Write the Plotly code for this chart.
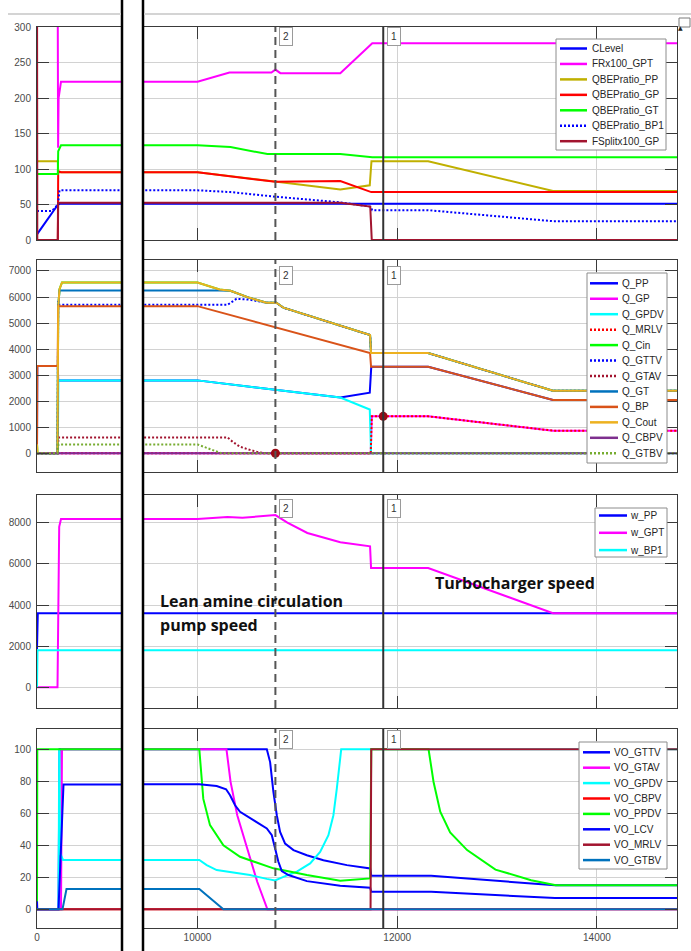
import numpy as np
import plotly.graph_objects as go

# ---------------- data (time in s) ----------------
# Panel 1
clevel_t = [0, 210, 230, 14802]
clevel_v = [8, 50, 51, 51]
frx_t = [0, 206, 211, 216, 240, 10000, 10320, 10740, 10780, 10830, 11430, 11750, 14802]
frx_v = [400, 400, 130, 200, 223, 223, 236, 236, 240, 235, 235, 277, 277]
pp_t = [0, 208, 212, 10000, 10780, 11430, 11725, 11742, 12310, 13560, 14802]
pp_v = [111, 111, 95.5, 95.5, 82, 71, 77, 111, 111, 69, 69]
gp_t = [0, 208, 212, 240, 10000, 10780, 11430, 11740, 14802]
gp_v = [0, 0, 97, 95.5, 95.5, 82, 83, 67.5, 67.5]
gt_t = [0, 208, 212, 240, 10000, 10330, 10700, 11430, 11750, 14802]
gt_v = [93, 93, 125, 133.5, 133.5, 131, 121, 121, 116.5, 116.5]
bp1_t = [0, 150, 210, 225, 10000, 10330, 10780, 11430, 11730, 11750, 12310, 13560, 14802]
bp1_v = [41, 41, 50, 70, 70, 67.5, 61, 53, 47, 42, 42, 26.5, 26.5]
fsplit_t = [0, 3, 208, 212, 11430, 11730, 11745, 14802]
fsplit_v = [400, 0, 0, 52.5, 52.5, 47, 0, 0]

# Panel 2
qpp_t = [0, 3, 208, 212, 10000, 11430, 11725, 11740, 12310, 13560, 14802]
qpp_v = [0, 3350, 3350, 2800, 2800, 2140, 2330, 3320, 3320, 2050, 2050]
qgp_t = [0, 11735, 11745, 12310, 13560, 14802]
qgp_v = [0, 0, 1420, 1420, 870, 870]
qgpdv_t = [0, 208, 214, 10000, 11430, 11725, 11738, 14802]
qgpdv_v = [0, 0, 2800, 2800, 2140, 1680, 0, 0]
qmrlv_t = [0, 11735, 11745, 12310, 13560, 14802]
qmrlv_v = [0, 0, 1420, 1420, 870, 870]
qcout_t = [0, 5, 205, 212, 225, 250, 10000, 10220, 10330, 10520, 10690, 10790, 10860, 11728, 11738, 12310, 13560, 14802]
qcout_v = [350, 0, 0, 5600, 6300, 6560, 6560, 6290, 6240, 5970, 5780, 5780, 5590, 4540, 3850, 3850, 2400, 2400]
qcin_t = qcout_t
qcin_v = qcout_v
qgttv_t = [0, 205, 212, 222, 10300, 10390, 10520, 10690, 10790, 10860, 11728, 11738, 12310, 13560, 14802]
qgttv_v = [0, 0, 5850, 5700, 5700, 5930, 5900, 5780, 5780, 5590, 4540, 3850, 3850, 2400, 2400]
qgtav_t = [0, 205, 215, 10300, 10356, 10426, 10526, 10620, 10720, 14802]
qgtav_v = [0, 0, 610, 610, 430, 250, 130, 30, 0, 0]
qgt_t = [0, 205, 212, 225, 10220, 10330, 10520, 10690, 10790, 10860, 11728, 11738, 12310, 13560, 14802]
qgt_v = [0, 0, 5600, 6250, 6250, 6240, 5970, 5780, 5780, 5590, 4540, 3850, 3850, 2400, 2400]
qbp_t = [0, 3, 206, 212, 10000, 11728, 11738, 12310, 13560, 14802]
qbp_v = [0, 3350, 3350, 5650, 5650, 3850, 3320, 3320, 2050, 2050]
qcbpv_t = [0, 14802]
qcbpv_v = [0, 0]
qgtbv_t = [0, 205, 215, 10000, 10240, 14802]
qgtbv_v = [0, 0, 340, 340, 0, 0]

# Panel 3
wpp_t = [0, 8, 14802]
wpp_v = [1850, 3600, 3600]
wgpt_t = [0, 205, 222, 240, 10000, 10300, 10450, 10600, 10780, 10900, 11100, 11430, 11728, 11738, 12310, 13560, 14802]
wgpt_v = [0, 0, 7800, 8180, 8180, 8280, 8240, 8300, 8370, 8000, 7500, 7050, 6850, 5800, 5800, 3600, 3600]
wbp1_t = [0, 5, 14802]
wbp1_v = [0, 1800, 1800]

# Panel 4
vgttv_t = [0, 215, 225, 10694, 10727, 10760, 10794, 10827, 10877, 10961, 11095, 11261, 11496, 11729, 11740, 12340, 13580, 14802]
vgttv_v = [0, 0, 100, 100, 92, 73.4, 58.8, 48.4, 41.1, 37, 33.8, 30.7, 27.6, 25.5, 21, 21, 15, 15]
vgtav_t = [0, 240, 250, 10290, 10331, 10398, 10498, 10598, 10700, 14802]
vgtav_v = [0, 0, 100, 100, 79.6, 58.8, 38, 17.2, 0, 0]
vgpdv_t = [0, 215, 222, 232, 260, 10018, 10092, 10192, 10326, 10526, 10694, 10777, 10860, 10995, 11128, 11228, 11311, 11361, 11395, 11419, 11439, 14802]
vgpdv_v = [0, 0, 100, 35, 30.8, 30.8, 27.6, 24.5, 23.1, 21.4, 19, 18, 20.3, 23.5, 28.7, 35.9, 46.3, 58.8, 75.4, 90, 100, 100]
vcbpv_t = [0, 14802]
vcbpv_v = [0, 0]
vppdv_t = [0, 3, 10018, 10058, 10125, 10259, 10426, 10760, 11095, 11429, 11729, 11740, 12314, 12364, 12431, 12530, 12700, 12984, 13341, 13590, 14802]
vppdv_v = [0, 100, 100, 69, 52.6, 40, 32.8, 25.6, 21.4, 17.8, 19.3, 100, 100, 79.6, 61, 48, 37, 24.8, 18.2, 15, 15]
vlcv_t = [0, 3, 215, 265, 10018, 10192, 10286, 10326, 10376, 10426, 10560, 10694, 10744, 10777, 10810, 10844, 10911, 11095, 11429, 11729, 11740, 12340, 13580, 14802]
vlcv_v = [5, 0, 0, 78, 78.2, 77.1, 75, 71.3, 65, 60.9, 55.7, 50.5, 46.3, 37.9, 29.7, 23.9, 21.4, 17.6, 14.7, 13.5, 11, 11, 7, 7]
vmrlv_t = [0, 11733, 11740, 14802]
vmrlv_v = [0, 0, 100, 100]
vgtbv_t = [0, 255, 295, 10018, 10259, 14802]
vgtbv_v = [0, 0, 12.7, 12.7, 0, 0]

cursor2_t = 10780
cursor1_t = 11860

y1_ticks = [0, 50, 100, 150, 200, 250, 300]
y2_ticks = [0, 1000, 2000, 3000, 4000, 5000, 6000, 7000]
y3_ticks = [0, 2000, 4000, 6000, 8000]
y4_ticks = [0, 20, 40, 60, 80, 100]
x_right_ticks = [10000, 12000, 14000]
x_left_ticks = [0]

# ---------------- styling ----------------
BLUE, MAG, CYAN, RED, GREEN = "#0000FF", "#FF00FF", "#00FFFF", "#FF0000", "#00FF00"
OLIVE, DRED = "#C0B000", "#A2142F"
MBLUE, ORANGE, GOLD, PURPLE, LGREEN = "#0072BD", "#D95319", "#EDB120", "#7E2F8E", "#77AC30"
DOT = "2px,2px"

panels = [
    dict(series=[("CLevel", clevel_t, clevel_v, BLUE, "solid"),
                 ("FRx100_GPT", frx_t, frx_v, MAG, "solid"),
                 ("QBEPratio_PP", pp_t, pp_v, OLIVE, "solid"),
                 ("QBEPratio_GP", gp_t, gp_v, RED, "solid"),
                 ("QBEPratio_GT", gt_t, gt_v, GREEN, "solid"),
                 ("QBEPratio_BP1", bp1_t, bp1_v, BLUE, DOT),
                 ("FSplitx100_GP", fsplit_t, fsplit_v, DRED, "solid")],
         yr=[0, 300], ticks=y1_ticks, px=(27, 240),
         leg=dict(box=(556, 39, 666, 150), y0=48.5, step=15.45, lx=(560, 587), tx=590)),
    dict(series=[("Q_PP", qpp_t, qpp_v, BLUE, "solid"),
                 ("Q_GP", qgp_t, qgp_v, MAG, "solid"),
                 ("Q_GPDV", qgpdv_t, qgpdv_v, CYAN, "solid"),
                 ("Q_MRLV", qmrlv_t, qmrlv_v, RED, DOT),
                 ("Q_Cin", qcin_t, qcin_v, GREEN, "solid"),
                 ("Q_GTTV", qgttv_t, qgttv_v, BLUE, DOT),
                 ("Q_GTAV", qgtav_t, qgtav_v, DRED, DOT),
                 ("Q_GT", qgt_t, qgt_v, MBLUE, "solid"),
                 ("Q_BP", qbp_t, qbp_v, ORANGE, "solid"),
                 ("Q_Cout", qcout_t, qcout_v, GOLD, "solid"),
                 ("Q_CBPV", qcbpv_t, qcbpv_v, PURPLE, "solid"),
                 ("Q_GTBV", qgtbv_t, qgtbv_v, LGREEN, DOT)],
         yr=[-718, 7422], ticks=y2_ticks, px=(260, 472),
         leg=dict(box=(587, 273, 667, 463), y0=283.3, step=15.45, lx=(590, 618), tx=620)),
    dict(series=[("w_PP", wpp_t, wpp_v, BLUE, "solid"),
                 ("w_GPT", wgpt_t, wgpt_v, MAG, "solid"),
                 ("w_BP1", wbp1_t, wbp1_v, CYAN, "solid")],
         yr=[-1006, 9346], ticks=y3_ticks, px=(495, 708),
         leg=dict(box=(595, 508, 667, 557), y0=515.5, step=17.3, lx=(599, 627), tx=628)),
    dict(series=[("VO_GTTV", vgttv_t, vgttv_v, BLUE, "solid"),
                 ("VO_GTAV", vgtav_t, vgtav_v, MAG, "solid"),
                 ("VO_GPDV", vgpdv_t, vgpdv_v, CYAN, "solid"),
                 ("VO_CBPV", vcbpv_t, vcbpv_v, RED, "solid"),
                 ("VO_PPDV", vppdv_t, vppdv_v, GREEN, "solid"),
                 ("VO_LCV", vlcv_t, vlcv_v, BLUE, "solid"),
                 ("VO_MRLV", vmrlv_t, vmrlv_v, DRED, "solid"),
                 ("VO_GTBV", vgtbv_t, vgtbv_v, MBLUE, "solid")],
         yr=[-11.7, 112.7], ticks=y4_ticks, px=(729, 928),
         leg=dict(box=(579, 742, 667, 869), y0=752.3, step=15.4, lx=(583, 610), tx=612)),
]

W, H = 691, 951
ML, MR, MT, MB = 37, 14, 27, 23
PW, PH = W - ML - MR, H - MT - MB


def px2x(px):
    return (px - ML) / PW


def py2y(py):
    return (H - MB - py) / PH


def ax(k):
    return "" if k == 1 else str(k)


GRID = "#d2d2d2"
FRAME = "#3a3a3a"
TICKC = "#4a4a4a"
FONT = "Liberation Sans, Arial, sans-serif"

fig = go.Figure()
layout = {}
shapes = []
annotations = []

for i, p in enumerate(panels):
    kl, kr = 2 * i + 1, 2 * i + 2
    for name, t, v, color, dash in p["series"]:
        for k in (kl, kr):
            fig.add_trace(go.Scatter(x=t, y=v, mode="lines", name=name, showlegend=False,
                                     line=dict(color=color, width=2, dash=dash),
                                     xaxis="x" + ax(k), yaxis="y" + ax(k), hoverinfo="skip"))
    top, bot = p["px"]
    dom = [py2y(bot), py2y(top)]
    common_y = dict(domain=dom, range=p["yr"], tickvals=p["ticks"], showgrid=True, gridcolor=GRID,
                    gridwidth=1, zeroline=False, showline=True, linecolor=FRAME, linewidth=1,
                    ticks="inside", ticklen=12, tickcolor=FRAME, tickwidth=1)
    layout["yaxis" + ax(kl)] = dict(common_y, anchor="x" + ax(kl), mirror=True, side="left",
                                    tickfont=dict(size=10, color=TICKC, family=FONT), ticklabelstandoff=3)
    layout["yaxis" + ax(kr)] = dict(common_y, anchor="x" + ax(kr), mirror=True, side="right",
                                    showticklabels=False)
    layout["xaxis" + ax(kl)] = dict(domain=[0, px2x(122)], range=[0, 850], anchor="y" + ax(kl),
                                    tickvals=x_left_ticks, showgrid=False, zeroline=False, showline=True,
                                    linecolor=FRAME, linewidth=1, mirror=True, ticks="",
                                    showticklabels=(i == 3),
                                    tickfont=dict(size=10, color=TICKC, family=FONT))
    layout["xaxis" + ax(kr)] = dict(domain=[px2x(143), 1], range=[9454, 14802], anchor="y" + ax(kr),
                                    tickvals=x_right_ticks, showgrid=True, gridcolor=GRID, gridwidth=1,
                                    zeroline=False, showline=True, linecolor=FRAME, linewidth=1,
                                    mirror="ticks", ticks="inside", ticklen=12, tickcolor=FRAME,
                                    showticklabels=(i == 3), tickformat="d",
                                    tickfont=dict(size=10, color=TICKC, family=FONT))

    # cursors
    xr, yr_ = "x" + ax(kr), "y" + ax(kr) + " domain"
    shapes.append(dict(type="line", xref=xr, yref=yr_, x0=cursor2_t, x1=cursor2_t, y0=0, y1=1,
                       line=dict(color="#555555", width=2, dash="8px,5px")))
    shapes.append(dict(type="line", xref=xr, yref=yr_, x0=cursor1_t, x1=cursor1_t, y0=0, y1=1,
                       line=dict(color="#333333", width=2)))
    yshift = [0, -6, -4, -1][i]
    for lbl, ct in (("2", cursor2_t), ("1", cursor1_t)):
        annotations.append(dict(text=lbl, x=ct, xref=xr, y=1, yref=yr_, xanchor="left", yanchor="top",
                                xshift=4, yshift=yshift, showarrow=False,
                                font=dict(size=10, color="#333333", family=FONT),
                                bgcolor="white", bordercolor="#9a9a9a", borderwidth=1, borderpad=3))

    # legend (drawn box)
    lg = p["leg"]
    bx0, by0, bx1, by1 = lg["box"]
    shapes.append(dict(type="rect", xref="paper", yref="paper", x0=px2x(bx0), x1=px2x(bx1),
                       y0=py2y(by1), y1=py2y(by0), fillcolor="white",
                       line=dict(color="#8c8c8c", width=1)))
    for j, (name, t, v, color, dash) in enumerate(p["series"]):
        yy = py2y(lg["y0"] + j * lg["step"])
        shapes.append(dict(type="line", xref="paper", yref="paper", x0=px2x(lg["lx"][0]),
                           x1=px2x(lg["lx"][1]), y0=yy, y1=yy,
                           line=dict(color=color, width=2.5, dash=dash)))
        annotations.append(dict(text=name, x=px2x(lg["tx"]), y=yy, xref="paper", yref="paper",
                                xanchor="left", yanchor="middle", showarrow=False,
                                font=dict(size=10, color="#262626", family=FONT)))

# cursor data markers on Q_GP
mark_t = [cursor2_t, cursor1_t]
mark_v = list(np.interp(mark_t, qgp_t, qgp_v))
fig.add_trace(go.Scatter(x=mark_t, y=mark_v, mode="markers", showlegend=False, hoverinfo="skip",
                         marker=dict(color="#9B0A14", size=9), xaxis="x4", yaxis="y4"))

# axis break markers & toolbar line
for bxp in (122, 143):
    shapes.append(dict(type="line", xref="paper", yref="paper", x0=px2x(bxp), x1=px2x(bxp),
                       y0=py2y(951), y1=py2y(0), line=dict(color="black", width=2.5)))
for xa, xb in ((8, 121), (144, 691)):
    shapes.append(dict(type="line", xref="paper", yref="paper", x0=px2x(xa), x1=px2x(xb),
                       y0=py2y(14), y1=py2y(14), line=dict(color="#d4d4d4", width=2)))
shapes.append(dict(type="rect", xref="paper", yref="paper", x0=px2x(679), x1=px2x(690),
                   y0=py2y(27), y1=py2y(18), fillcolor="white", line=dict(color="#7a7a7a", width=1)))
annotations.append(dict(text="▲", x=px2x(684.5), y=py2y(22.5), xref="paper", yref="paper",
                        showarrow=False, font=dict(size=6, color="#202020", family="DejaVu Sans")))

# text annotations
TFONT = dict(size=16, color="#111111", family="Open Sans, Noto Sans, sans-serif", weight="bold")
for txt, x, y in (("Lean amine circulation", 158, 601), ("pump speed", 158, 625),
                  ("Turbocharger speed", 433, 583)):
    annotations.append(dict(text=txt, x=px2x(x), y=py2y(y), xref="paper", yref="paper",
                            xanchor="left", yanchor="middle", showarrow=False, font=TFONT))

fig.update_layout(width=W, height=H, margin=dict(l=ML, r=MR, t=MT, b=MB, autoexpand=False),
                  paper_bgcolor="white", plot_bgcolor="white", showlegend=False,
                  font=dict(family=FONT), shapes=shapes, annotations=annotations, **layout)

fig.write_html("out.html", config={"displayModeBar": False, "staticPlot": True},
               post_script="document.body.style.margin='0';document.body.style.overflow='hidden';")
